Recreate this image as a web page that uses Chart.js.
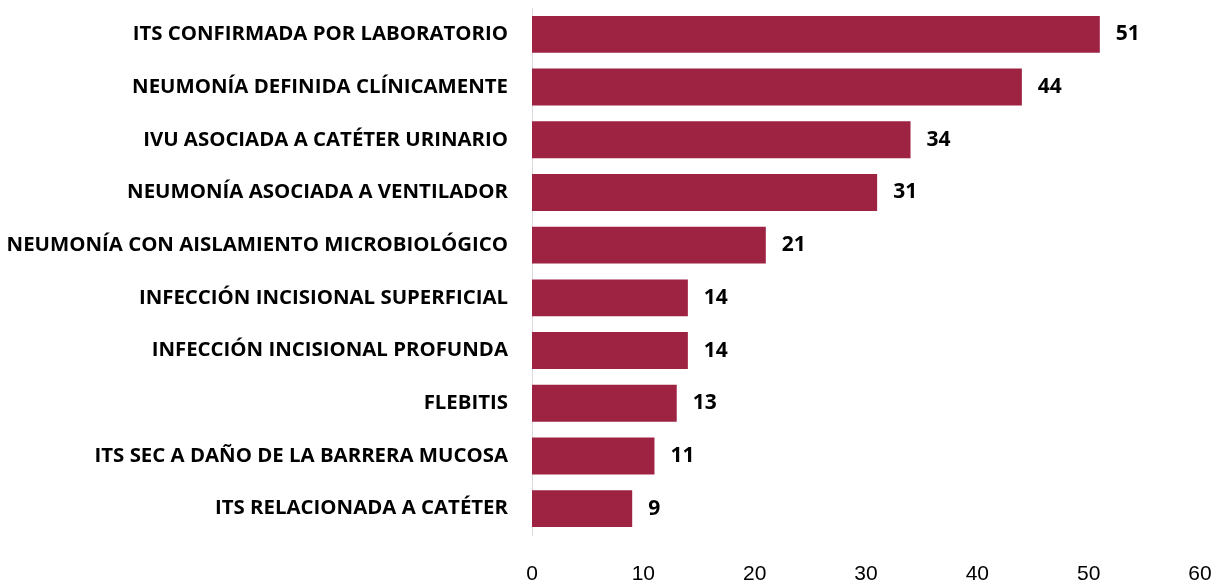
<!DOCTYPE html>
<html>
<head>
<meta charset="utf-8">
<script src="https://cdn.jsdelivr.net/npm/chart.js@4"></script>
<style>
  html, body { margin: 0; padding: 0; background: #fff; }
  #wrap { width: 1223px; height: 586px; }
</style>
</head>
<body>
<div id="wrap"><canvas id="myChart"></canvas></div>
<script>
var categories = [
    'ITS CONFIRMADA POR LABORATORIO',
    'NEUMONÍA DEFINIDA CLÍNICAMENTE',
    'IVU ASOCIADA A CATÉTER URINARIO',
    'NEUMONÍA ASOCIADA A VENTILADOR',
    'NEUMONÍA CON AISLAMIENTO MICROBIOLÓGICO',
    'INFECCIÓN INCISIONAL SUPERFICIAL',
    'INFECCIÓN INCISIONAL PROFUNDA',
    'FLEBITIS',
    'ITS SEC A DAÑO DE LA BARRERA MUCOSA',
    'ITS RELACIONADA A CATÉTER'
];
var casos = [51, 44, 34, 31, 21, 14, 14, 13, 11, 9];
var xTicks = [0, 10, 20, 30, 40, 50, 60];

// numbers at the end of each bar
var valueLabels = {
    id: 'valueLabels',
    afterDatasetsDraw: function (chart) {
        var ctx = chart.ctx;
        var meta = chart.getDatasetMeta(0);
        ctx.save();
        ctx.font = 'bold 21px "Open Sans"';
        ctx.fillStyle = '#000';
        ctx.textAlign = 'left';
        ctx.textBaseline = 'middle';
        meta.data.forEach(function (bar, i) {
            ctx.fillText(chart.data.datasets[0].data[i], bar.x + 16, bar.y);
        });
        ctx.restore();
    }
};

var ctx = document.getElementById('myChart').getContext('2d');
var myChart = new Chart(ctx, {
    type: 'bar',
    data: {
        labels: categories,
        datasets: [{
            label: 'Casos',
            data: casos,
            backgroundColor: '#9E2342',
            borderWidth: 0,
            categoryPercentage: 0.7,
            barPercentage: 1
        }]
    },
    options: {
        indexAxis: 'y',
        responsive: true,
        maintainAspectRatio: false,
        animation: false,
        layout: { padding: { top: 8, right: 23, bottom: 0, left: 0 } },
        plugins: {
            legend: { display: false },
            tooltip: { enabled: false }
        },
        scales: {
            x: {
                min: 0,
                max: 60,
                afterBuildTicks: function (axis) {
                    axis.ticks = xTicks.map(function (v) { return { value: v }; });
                },
                grid: { display: false, drawTicks: false },
                border: { display: false },
                ticks: {
                    color: '#000',
                    padding: 27,
                    font: { family: '"Liberation Sans Narrow", "Liberation Sans"', size: 21 }
                },
                afterFit: function (axis) {
                    axis.height = 51;
                    axis.paddingLeft = 0;
                    axis.paddingRight = 0;
                }
            },
            y: {
                grid: { display: false, drawTicks: false },
                border: { display: true, color: '#d9d9d9', width: 1 },
                ticks: {
                    color: '#000',
                    padding: 24,
                    font: { family: '"Open Sans"', size: 20.4, weight: 'bold' }
                },
                afterFit: function (axis) {
                    axis.width = 532;
                    axis.paddingTop = 0;
                    axis.paddingBottom = 0;
                }
            }
        }
    },
    plugins: [valueLabels]
});
</script>
</body>
</html>
